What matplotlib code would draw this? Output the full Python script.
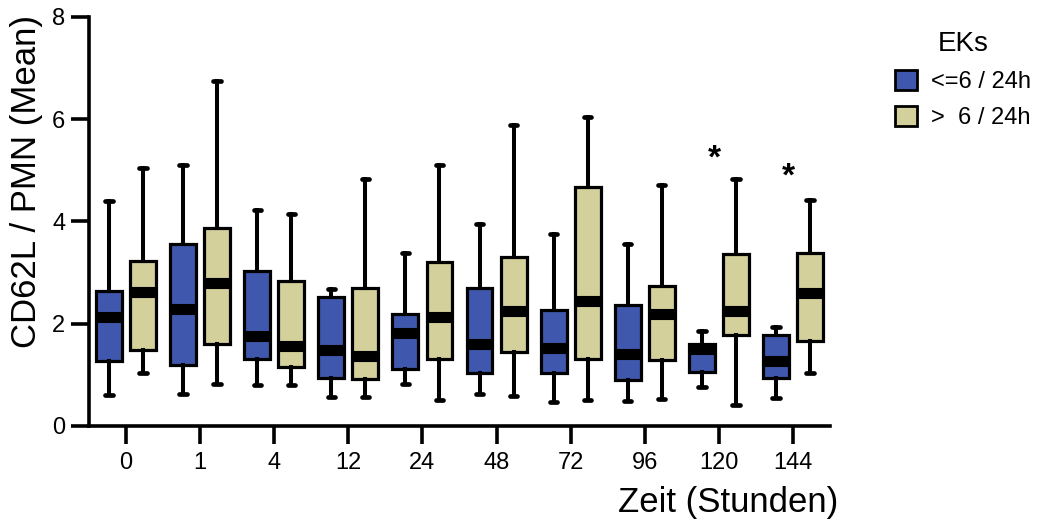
import matplotlib
matplotlib.use("Agg")
import matplotlib.pyplot as plt
from matplotlib.patches import Patch

plt.rcParams['font.family'] = ['Liberation Sans', 'DejaVu Sans']

# ---- data ----
time_labels = ['0', '1', '4', '12', '24', '48', '72', '96', '120', '144']
group_names = ['<=6 / 24h', '>  6 / 24h']

low_le6  = [0.61, 0.62, 0.81, 0.56, 0.83, 0.62, 0.46, 0.48, 0.76, 0.54]
q1_le6   = [1.28, 1.19, 1.30, 0.93, 1.11, 1.03, 1.03, 0.90, 1.06, 0.93]
med_le6  = [2.14, 2.28, 1.76, 1.48, 1.81, 1.60, 1.52, 1.41, 1.50, 1.28]
q3_le6   = [2.64, 3.55, 3.03, 2.53, 2.18, 2.69, 2.27, 2.36, 1.61, 1.78]
high_le6 = [4.39, 5.11, 4.22, 2.67, 3.39, 3.95, 3.76, 3.55, 1.86, 1.93]

low_gt6  = [1.03, 0.83, 0.80, 0.57, 0.51, 0.59, 0.51, 0.52, 0.41, 1.03]
q1_gt6   = [1.48, 1.61, 1.16, 0.92, 1.30, 1.45, 1.30, 1.29, 1.78, 1.67]
med_gt6  = [2.62, 2.80, 1.57, 1.37, 2.14, 2.25, 2.44, 2.18, 2.25, 2.60]
q3_gt6   = [3.22, 3.87, 2.84, 2.69, 3.21, 3.31, 4.67, 2.73, 3.37, 3.39]
high_gt6 = [5.05, 6.74, 4.15, 4.83, 5.10, 5.88, 6.04, 4.71, 4.82, 4.41]

sig_times = ['120', '144']
sig_heights = [5.21, 4.86]

# ---- styling ----
col_le6 = '#3F58AD'
col_gt6 = '#D3D09B'
offset = 0.23
box_w = 0.35

fig = plt.figure(figsize=(10.37, 5.31), dpi=100)
ax = fig.add_axes([89/1037, 1 - 426/531, (830 - 89)/1037, (426 - 16.7)/531])


def stats(lo, q1, med, q3, hi):
    return [dict(whislo=a, q1=b, med=c, q3=d, whishi=e, fliers=[])
            for a, b, c, d, e in zip(lo, q1, med, q3, hi)]


x = list(range(len(time_labels)))
for st, col, sgn in [(stats(low_le6, q1_le6, med_le6, q3_le6, high_le6), col_le6, -1),
                     (stats(low_gt6, q1_gt6, med_gt6, q3_gt6, high_gt6), col_gt6, 1)]:
    ax.bxp(st, positions=[i + sgn * offset for i in x], widths=box_w,
           patch_artist=True, showfliers=False, capwidths=0.1,
           boxprops=dict(facecolor=col, edgecolor='black', linewidth=2.3),
           medianprops=dict(color='black', linewidth=8, solid_capstyle='butt'),
           whiskerprops=dict(color='black', linewidth=2.9),
           capprops=dict(color='black', linewidth=3.4, solid_capstyle='round'),
           manage_ticks=False)

for t, h in zip(sig_times, sig_heights):
    i = time_labels.index(t)
    ax.text(i - 0.06, h, '*', ha='center', va='center', fontsize=24,
            fontweight='bold')

ax.set_xlim(-0.5, 9.5)
ax.set_ylim(0, 8)
ax.set_xticks(x)
ax.set_xticklabels(time_labels)
ax.set_yticks([0, 2, 4, 6, 8])
ax.tick_params(axis='both', labelsize=17, width=2.6, length=13)
ax.tick_params(axis='x', pad=6)
ax.tick_params(axis='y', pad=4)
for s in ['top', 'right']:
    ax.spines[s].set_visible(False)
for s in ['left', 'bottom']:
    ax.spines[s].set_linewidth(2.6)

ax.set_ylabel('CD62L / PMN (Mean)', fontsize=25, ha='right')
ax.yaxis.set_label_coords(-0.062, 1.005)
ax.set_xlabel('Zeit (Stunden)', fontsize=25, ha='right')
ax.xaxis.set_label_coords(1.011, -0.147)

handles = [Patch(facecolor=col_le6, edgecolor='black', linewidth=2),
           Patch(facecolor=col_gt6, edgecolor='black', linewidth=2)]
leg = fig.legend(handles, group_names, title='EKs', loc='upper left',
                 bbox_to_anchor=(874/1037, 1 - 10/531), frameon=False,
                 fontsize=17, title_fontsize=20, handlelength=0.9,
                 handleheight=0.9, handletextpad=0.6, labelspacing=0.55)

fig.savefig('out.png', dpi=100)
